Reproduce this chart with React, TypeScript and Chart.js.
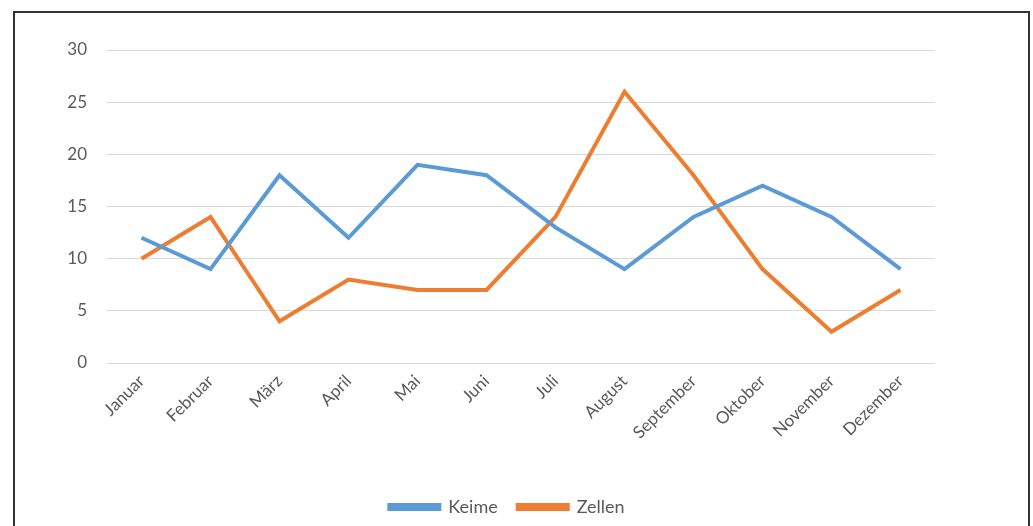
import React, { useEffect, useRef } from "react";
import { Chart, registerables } from "chart.js";

Chart.register(...registerables);

const months = ["Januar", "Februar", "März", "April", "Mai", "Juni", "Juli", "August", "September", "Oktober", "November", "Dezember"];
const keime = [12, 9, 18, 12, 19, 18, 13, 9, 14, 17, 14, 9];
const zellen = [10, 14, 4, 8, 7, 7, 14, 26, 18, 9, 3, 7];
const yTicks = [0, 5, 10, 15, 20, 25, 30];

const FONT = "Lato, 'Open Sans', sans-serif";
const TEXT = "#595959";

export default function App() {
  const ref = useRef<HTMLCanvasElement | null>(null);
  useEffect(() => {
    if (!ref.current) return;
    const chart = new Chart(ref.current, {
      type: "line",
      data: {
        labels: months,
        datasets: [
          { label: "Keime", data: keime, borderColor: "#5B9BD5", backgroundColor: "#5B9BD5", borderWidth: 4, pointRadius: 0, tension: 0, yAxisID: "y" },
          { label: "Zellen", data: zellen, borderColor: "#ED7D31", backgroundColor: "#ED7D31", borderWidth: 4, pointRadius: 0, tension: 0, yAxisID: "y" },
        ],
      },
      options: {
        responsive: false,
        animation: false,
        layout: { padding: { left: 0, right: 19, top: 50, bottom: 0 } },
        plugins: {
          tooltip: { enabled: false },
          legend: {
            position: "bottom",
            labels: { boxWidth: 50, boxHeight: 4, color: TEXT, font: { family: FONT, size: 18 }, padding: 20 },
          },
        },
        scales: {
          x: {
            offset: true,
            grid: { display: false, drawTicks: false },
            border: { display: false },
            ticks: { color: TEXT, font: { family: FONT, size: 17 }, maxRotation: 45, minRotation: 45, padding: 8 },
            afterFit: (s: any) => { s.height = 115; },
          },
          y: {
            min: 0,
            max: 30,
            afterBuildTicks: (s: any) => { s.ticks = yTicks.map((v) => ({ value: v })); },
            grid: { color: "#D9D9D9", lineWidth: 1, drawTicks: false },
            border: { display: false },
            ticks: { color: TEXT, font: { family: FONT, size: 17 }, padding: 20 },
            afterFit: (s: any) => { s.width = 107; },
          },
          yr: {
            position: "right",
            display: true,
            min: 0,
            max: 30,
            grid: { display: false, drawTicks: false },
            border: { display: false },
            ticks: { display: false },
            afterFit: (s: any) => { s.width = 79; },
          },
        },
      },
    });
    return () => chart.destroy();
  }, []);
  return (
    <div style={{ position: "fixed", left: 0, top: 0, width: 1033, height: 526, background: "#fff" }}>
      <canvas ref={ref} width={1033} height={526} style={{ position: "absolute", left: 0, top: 0 }} />
      <div style={{ position: "absolute", left: 13, top: 11, width: 1017, height: 530, border: "2px solid #333", boxSizing: "border-box", pointerEvents: "none" }} />
    </div>
  );
}
